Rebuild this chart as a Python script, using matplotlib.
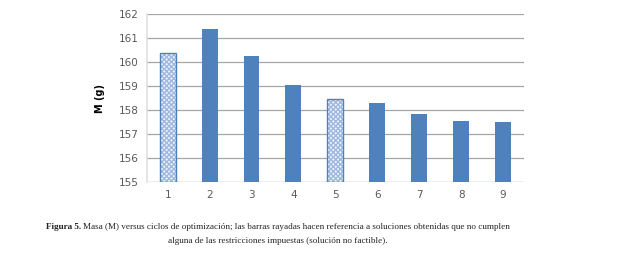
import numpy as np
import matplotlib.pyplot as plt

# data
ciclos = [1, 2, 3, 4, 5, 6, 7, 8, 9]
masa = [160.37, 161.38, 160.26, 159.05, 158.47, 158.29, 157.84, 157.53, 157.49]
no_factible = [True, False, False, False, True, False, False, False, False]
yticks = [155, 156, 157, 158, 159, 160, 161, 162]

azul = "#4f81bd"

fig = plt.figure(figsize=(6.34, 2.56), dpi=100)
ax = fig.add_axes([0.2314, 0.290, 0.5951, 0.654])

x = np.array(ciclos)
m = np.array(masa)
nf = np.array(no_factible)
w = 0.38

# solid bars
ax.bar(x[~nf], m[~nf] - 155, bottom=155, width=w, color=azul, zorder=3)
# hatched bars (infeasible solutions)
ax.bar(x[nf], m[nf] - 155, bottom=155, width=w, color="#eef3fa",
       edgecolor="#9fb8e0", hatch="xxxxxxx", linewidth=0, zorder=3)
ax.bar(x[nf], m[nf] - 155, bottom=155, width=w, fill=False,
       edgecolor=azul, linewidth=1.0, zorder=4)

ax.set_xlim(0.5, 9.5)
ax.set_ylim(155, 162)
ax.set_yticks(yticks)
ax.set_xticks(ciclos)
ax.grid(axis="y", color="#a6a6a6", linewidth=0.9, zorder=0)
for s in ["top", "right", "bottom"]:
    ax.spines[s].set_visible(False)
ax.spines["left"].set_color("#e0e0e0")
ax.spines["left"].set_linewidth(1.2)
ax.axhline(155, color="#d9d9d9", linewidth=1.0, zorder=2)
ax.tick_params(length=0, labelsize=7.5, colors="#595959", pad=6)
ax.set_ylabel("M (g)", fontsize=7, fontweight="bold", labelpad=10)

# caption, first line = bold label + normal text, centred as a whole
cap = {"family": "Liberation Serif", "size": 6.55, "color": "#222222"}
centro = 278
t1 = fig.text(0, 0.113, "Figura 5. ", fontweight="bold", ha="left", va="center", **cap)
t2 = fig.text(0, 0.113, "Masa (M) versus ciclos de optimización; las barras rayadas hacen "
              "referencia a soluciones obtenidas que no cumplen",
              ha="left", va="center", **cap)
r = fig.canvas.get_renderer()
w1 = t1.get_window_extent(r).width
w2 = t2.get_window_extent(r).width
x0 = centro - (w1 + w2) / 2
t1.set_x(x0 / 634)
t2.set_x((x0 + w1) / 634)
fig.text(centro / 634, 0.058, "alguna de las restricciones impuestas (solución no factible).",
         ha="center", va="center", **cap)

fig.savefig("out.png", dpi=100)
